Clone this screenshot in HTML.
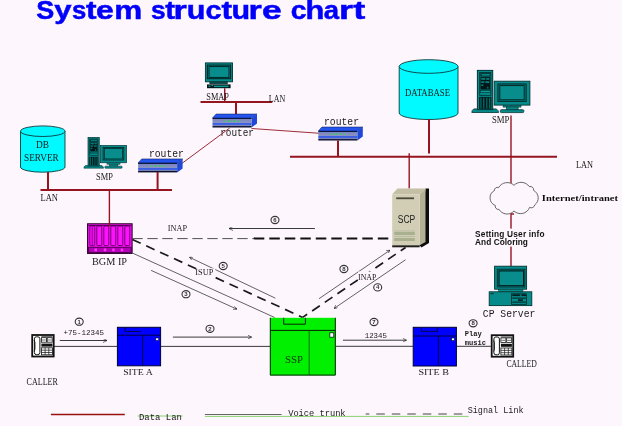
<!DOCTYPE html>
<html><head><meta charset="utf-8"><title>System structure chart</title>
<style>
html,body{margin:0;padding:0;background:#fdf7fd;}
body{width:622px;height:426px;overflow:hidden;}
svg{display:block;will-change:transform;}
.t{font-family:"Liberation Serif",serif;fill:#1a1a1a;}
.m{font-family:"Liberation Mono",monospace;fill:#1a1a1a;}
.b{font-family:"Liberation Sans",sans-serif;font-weight:bold;fill:#111;}
.lan{stroke:#941420;stroke-width:2;fill:none;}
.ln{stroke:#941420;stroke-width:1.4;fill:none;}
.tl{stroke:#941420;stroke-width:0.9;fill:none;}
.k{stroke:#3a3a3a;stroke-width:1;fill:none;}
.kd{stroke:#505050;stroke-width:0.9;fill:none;}
.g{stroke:#555;stroke-width:1;fill:none;}
.dk{stroke:#111;stroke-width:2;fill:none;stroke-dasharray:9 6;}
.num{font-family:"Liberation Sans",sans-serif;font-size:6px;font-weight:bold;fill:#333;text-anchor:middle;}
.nc{fill:none;stroke:#333;stroke-width:1.1;}
</style></head>
<body>
<svg width="622" height="426" viewBox="0 0 622 426">
<defs>
  <linearGradient id="rg" x1="0" y1="0" x2="0" y2="1">
    <stop offset="0" stop-color="#080c28"/>
    <stop offset="0.08" stop-color="#141c48"/>
    <stop offset="0.14" stop-color="#7a86c0"/>
    <stop offset="0.5" stop-color="#8a92c4"/>
    <stop offset="0.56" stop-color="#3a5ee6"/>
    <stop offset="0.72" stop-color="#4466e0"/>
    <stop offset="0.78" stop-color="#8088b8"/>
    <stop offset="0.86" stop-color="#5a64a0"/>
    <stop offset="0.9" stop-color="#0c1030"/>
    <stop offset="1" stop-color="#080c28"/>
  </linearGradient>
  <g id="router">
    <polygon points="3.6,0 44.5,0 39,4 0,4" fill="#2454ee" stroke="#0a1450" stroke-width="0.5"/>
    <polygon points="39,4 44.5,0 44.5,9.6 39,13.5" fill="#1e48d8"/>
    <rect x="0" y="4" width="39" height="9.5" fill="url(#rg)"/>
    <g fill="#30e048"><rect x="12.5" y="6.4" width="1.3" height="1.6"/><rect x="15.8" y="6.4" width="1.3" height="1.6"/><rect x="19.1" y="6.4" width="1.3" height="1.6"/><rect x="22.4" y="6.4" width="1.3" height="1.6"/><rect x="25.7" y="6.4" width="1.3" height="1.6"/></g>
  </g>
  <!-- tower + monitor, native size 58.2 x 42.7 -->
  <g id="smp">
    <path d="M2,38.8 H24.5 Q26.8,40.5 26.8,42.4 H0 Q0,40 2,38.8 Z" fill="#068a8a" stroke="#023434" stroke-width="0.8"/>
    <rect x="5.6" y="0.3" width="15.3" height="39.2" fill="#068a8a" stroke="#023434" stroke-width="1"/>
    <rect x="7.9" y="2.3" width="11.2" height="22.9" fill="#068a8a" stroke="#022828" stroke-width="0.8"/>
    <rect x="8.6" y="3.2" width="9.8" height="3.2" fill="#021818"/>
    <rect x="9.7" y="4.1" width="8.2" height="1.4" fill="#0aa0a0"/>
    <rect x="8.6" y="7" width="9.8" height="12.5" fill="#021818"/>
    <rect x="9.5" y="8" width="4" height="1.6" fill="#068a8a"/><rect x="14.5" y="8" width="3" height="1.6" fill="#068a8a"/>
    <rect x="9.5" y="11.2" width="3" height="1.6" fill="#068a8a"/><rect x="13.5" y="11.2" width="4" height="1.6" fill="#068a8a"/>
    <rect x="9.5" y="14.4" width="2" height="1.4" fill="#068a8a"/><rect x="15.5" y="16.5" width="1" height="2" fill="#068a8a"/>
    <rect x="8.6" y="20.5" width="9.8" height="1.9" fill="#0aa0a0" stroke="#022828" stroke-width="0.6"/>
    <rect x="7.3" y="26.8" width="12.3" height="12" fill="#021818"/>
    <g fill="#068a8a"><rect x="8.7" y="27.5" width="0.9" height="11"/><rect x="11.6" y="27.5" width="0.9" height="11"/><rect x="14.6" y="27.5" width="0.9" height="11"/><rect x="17.5" y="27.5" width="0.9" height="11"/></g>
    <rect x="22.4" y="11.1" width="35.7" height="23.9" fill="#068a8a" stroke="#023434" stroke-width="0.9"/>
    <rect x="26.2" y="13.9" width="28.1" height="17.3" fill="#068a8a" stroke="#021e1e" stroke-width="1"/>
    <rect x="28" y="15.5" width="24.4" height="14.2" fill="#088c8c" stroke="#021e1e" stroke-width="0.9"/>
    <rect x="31.3" y="35.2" width="17.9" height="1.8" fill="#068a8a" stroke="#023434" stroke-width="0.6"/>
    <rect x="34.6" y="36.9" width="11.7" height="2.8" fill="#068a8a" stroke="#023434" stroke-width="0.6"/>
    <rect x="28.5" y="39.6" width="23.5" height="2.9" rx="1" fill="#068a8a" stroke="#023434" stroke-width="0.8"/>
  </g>
  <g id="phone">
    <rect x="0.8" y="0.8" width="21.5" height="21.5" fill="#fff" stroke="#111" stroke-width="1.8"/>
    <rect x="3" y="2.6" width="5.5" height="17.8" rx="2" fill="#fff" stroke="#111" stroke-width="1"/>
    <path d="M2.5,6 L3.6,8 L3.6,15 L2.5,17" stroke="#111" stroke-width="0.8" fill="none"/>
    <rect x="10" y="2.2" width="11" height="0.8" fill="#111"/>
    <rect x="10" y="3.5" width="5" height="4.5" fill="#fff" stroke="#111" stroke-width="0.8"/>
    <rect x="15.8" y="3.5" width="5" height="4.5" fill="#fff" stroke="#111" stroke-width="0.8"/>
    <rect x="10.6" y="5.5" width="3.8" height="0.6" fill="#111"/>
    <rect x="16.4" y="5.5" width="3.8" height="0.6" fill="#111"/>
    <rect x="10" y="9.4" width="11" height="3" fill="#111"/>
    <rect x="10" y="13.6" width="11" height="7" fill="#fff" stroke="#111" stroke-width="0.8"/>
    <path d="M10,16 H21 M10,18.3 H21 M13.7,13.6 V20.6 M17.4,13.6 V20.6" stroke="#111" stroke-width="0.7"/>
  </g>
  <marker id="ah" viewBox="0 0 10 10" refX="10" refY="5" markerWidth="4" markerHeight="4" orient="auto-start-reverse">
    <path d="M0,0 L10,5 L0,10" fill="none" stroke="#222" stroke-width="1.6"/>
  </marker>
</defs>

<!-- Title -->
<g font-family="Liberation Sans" font-weight="bold" font-size="26.5" fill="#0000fa" stroke="#0000fa" stroke-width="0.5">
<text transform="translate(36.36,19) scale(1.019,1)">S</text><text transform="translate(54.26,19) scale(1.172,1)">y</text><text transform="translate(71.90,19) scale(0.970,1)">s</text><text transform="translate(86.03,19) scale(1.195,1)">t</text><text transform="translate(95.96,19) scale(1.205,1)">e</text><text transform="translate(114.30,19) scale(1.187,1)">m</text><text transform="translate(150.98,19) scale(0.993,1)">s</text><text transform="translate(165.36,19) scale(1.112,1)">t</text><text transform="translate(173.54,19) scale(1.289,1)">r</text><text transform="translate(186.70,19) scale(1.152,1)">u</text><text transform="translate(205.58,19) scale(1.090,1)">c</text><text transform="translate(221.53,19) scale(1.195,1)">t</text><text transform="translate(231.60,19) scale(1.151,1)">u</text><text transform="translate(248.54,19) scale(1.289,1)">r</text><text transform="translate(262.12,19) scale(1.342,1)">e</text><text transform="translate(290.70,19) scale(1.068,1)">c</text><text transform="translate(305.42,19) scale(1.162,1)">h</text><text transform="translate(323.64,19) scale(1.039,1)">a</text><text transform="translate(338.92,19) scale(1.360,1)">r</text><text transform="translate(353.28,19) scale(1.360,1)">t</text>
</g>

<!-- ===== Top center: SMAP ===== -->
<g>
  <rect x="205.4" y="62.9" width="27.1" height="18.9" fill="#068a8a" stroke="#023434" stroke-width="0.9"/>
  <rect x="207.4" y="65.1" width="23.2" height="13.6" fill="#068a8a" stroke="#021e1e" stroke-width="1"/>
  <rect x="209" y="66.6" width="20" height="10.8" fill="#088c8c" stroke="#021e1e" stroke-width="0.9"/>
  <rect x="209.8" y="81.9" width="17.6" height="2" fill="#0a5050" stroke="#021e1e" stroke-width="0.5"/>
  <rect x="207" y="84.4" width="23.6" height="3.8" fill="#021818"/>
  <g fill="#0a9a9a"><rect x="208.5" y="85.5" width="2" height="1.2"/><rect x="211.5" y="85" width="1.5" height="1"/><rect x="214" y="85.6" width="14.5" height="1.5"/></g>
</g>
<line class="ln" x1="224.7" y1="88.2" x2="224.7" y2="102"/>
<text class="t" x="206.3" y="99.6" font-size="10" textLength="22.7" lengthAdjust="spacingAndGlyphs">SMAP</text>
<line class="lan" x1="200.5" y1="102" x2="272.3" y2="102"/>
<text class="t" x="268.8" y="101.8" font-size="10" textLength="16.4" lengthAdjust="spacingAndGlyphs">LAN</text>
<line class="lan" x1="236" y1="102" x2="236" y2="114.5"/>
<use href="#router" x="212.5" y="114"/>
<text class="m" x="220.2" y="136.2" font-size="10" textLength="33.8" lengthAdjust="spacingAndGlyphs">router</text>

<!-- router links -->
<line class="tl" x1="229.7" y1="128" x2="181.4" y2="163.8"/>
<line class="tl" x1="251.5" y1="128.5" x2="319.7" y2="133.3"/>

<!-- ===== Left: DB SERVER, SMP, router, LAN ===== -->
<g>
  <path d="M20.5,131.2 V167 A22.25,5.2 0 0 0 65,167 V131.2" fill="#00faff" stroke="#0a3a3a" stroke-width="0.9"/>
  <ellipse cx="42.75" cy="131.2" rx="22.25" ry="5.3" fill="#00faff" stroke="#0a3a3a" stroke-width="0.9"/>
  <text class="t" x="36" y="148" font-size="9.5" textLength="13" lengthAdjust="spacingAndGlyphs">DB</text>
  <text class="t" x="24" y="161" font-size="9.5" textLength="34.7" lengthAdjust="spacingAndGlyphs">SERVER</text>
</g>
<line class="lan" x1="48" y1="172" x2="48" y2="190"/>
<use href="#smp" transform="translate(83.9,137.3) scale(0.735,0.728)"/>
<text class="t" x="96" y="179.5" font-size="9.5" textLength="16.8" lengthAdjust="spacingAndGlyphs">SMP</text>
<use href="#router" x="138.1" y="158.9"/>
<text class="m" x="148.9" y="156.6" font-size="10" textLength="35" lengthAdjust="spacingAndGlyphs">router</text>
<line class="lan" x1="157.6" y1="172" x2="157.6" y2="190"/>
<line class="lan" x1="40.5" y1="190" x2="172" y2="190"/>
<text class="t" x="40.5" y="201" font-size="9.5" textLength="17.5" lengthAdjust="spacingAndGlyphs">LAN</text>
<line class="ln" x1="109.4" y1="190" x2="109.4" y2="226.3"/>

<!-- ===== Right top: router, DATABASE, SMP, LAN ===== -->
<use href="#router" x="318.3" y="127"/>
<text class="m" x="324" y="124.6" font-size="10" textLength="35" lengthAdjust="spacingAndGlyphs">router</text>
<line class="lan" x1="338" y1="140.5" x2="338" y2="156.8"/>
<g>
  <path d="M399.2,66.5 V113 A29.4,6.5 0 0 0 458,113 V66.5" fill="#00faff" stroke="#0a3a3a" stroke-width="0.9"/>
  <ellipse cx="428.6" cy="66.5" rx="29.4" ry="6.8" fill="#00faff" stroke="#0a3a3a" stroke-width="0.9"/>
  <text class="t" x="405" y="95.6" font-size="10" textLength="45" lengthAdjust="spacingAndGlyphs">DATABASE</text>
</g>
<line class="lan" x1="429" y1="119" x2="429" y2="153.5"/>
<use href="#smp" transform="translate(471.8,70.1)"/>
<text class="t" x="491.9" y="123" font-size="10" textLength="17.5" lengthAdjust="spacingAndGlyphs">SMP</text>
<line class="lan" x1="290" y1="156.8" x2="557" y2="156.8"/>
<text class="t" x="576" y="168" font-size="10" textLength="17" lengthAdjust="spacingAndGlyphs">LAN</text>
<line class="ln" x1="511" y1="115.5" x2="511" y2="183"/>
<line class="ln" x1="409.2" y1="153.2" x2="409.2" y2="188.5"/>

<!-- ===== Cloud ===== -->
<path d="M514.0,185.3 A9.99,9.99 0 0 1 529.3,186.6 A3.37,3.37 0 0 1 533.6,190.4 A8.53,8.53 0 0 1 534.8,204.8 A3.57,3.57 0 0 1 529.6,207.4 A9.60,9.60 0 0 1 514.0,211.0 A9.39,9.39 0 0 1 499.0,209.4 A3.22,3.22 0 0 1 495.3,205.4 A8.13,8.13 0 0 1 494.4,190.6 A2.97,2.97 0 0 1 498.6,187.6 A9.88,9.88 0 0 1 514.0,185.3 Z" fill="#fdf7fd" stroke="#444" stroke-width="0.8"/>
<line class="ln" x1="511" y1="213.5" x2="511" y2="266"/>
<line class="ln" x1="511" y1="214" x2="514" y2="214"/>
<text x="541.8" y="200.8" font-family="Liberation Serif" font-weight="bold" font-size="8.5" fill="#111" textLength="76.2" lengthAdjust="spacingAndGlyphs">Internet/intranet</text>
<rect x="474" y="228.6" width="72" height="18" fill="#fdf7fd"/>
<text class="b" x="475.1" y="236.5" font-size="8.3" textLength="69.5" lengthAdjust="spacing">Setting User info</text>
<text class="b" x="475.1" y="244.8" font-size="8.3" textLength="52.8" lengthAdjust="spacing">And Coloring</text>

<!-- ===== CP Server ===== -->
<g>
  <rect x="494.6" y="266.2" width="32" height="23" fill="#068a8a" stroke="#023434" stroke-width="0.9"/>
  <rect x="497.3" y="269.2" width="27.6" height="17.8" fill="#068a8a" stroke="#021e1e" stroke-width="0.8"/>
  <rect x="499" y="270.9" width="24.6" height="14.8" fill="#088c8c" stroke="#021818" stroke-width="1.1"/>
  <rect x="498.5" y="289.4" width="24.5" height="2.2" fill="#068a8a" stroke="#023434" stroke-width="0.5"/>
  <rect x="489.2" y="291.8" width="42.6" height="13.8" fill="#068a8a" stroke="#023434" stroke-width="0.9"/>
  <rect x="511.6" y="293.8" width="15" height="10.5" fill="#068a8a" stroke="#021e1e" stroke-width="0.7"/>
  <rect x="512.3" y="294.3" width="8" height="1.8" fill="#021e1e"/>
  <rect x="521.5" y="294.3" width="4.5" height="1.8" fill="#021e1e"/>
  <rect x="512.3" y="297.6" width="13.6" height="1" fill="#021e1e"/>
  <rect x="518" y="299.3" width="5" height="1.6" fill="#021e1e"/>
  <rect x="512.3" y="301.6" width="13.6" height="1" fill="#021e1e"/>
  <rect x="490.6" y="293.3" width="3" height="0.9" fill="#021e1e"/>
</g>
<text class="m" x="482.8" y="317" font-size="10" textLength="52.5" lengthAdjust="spacingAndGlyphs">CP Server</text>

<!-- ===== SCP ===== -->
<g>
  <polygon points="425.5,188.6 429,188.6 429,243 421.4,247.5 419.7,245.3" fill="#0c0c0c"/>
  <polygon points="397.5,188.6 425.5,188.6 419.7,194.3 392.2,194.3" fill="#c4c0a6"/>
  <polygon points="419.7,194.3 425.5,188.6 425.5,242 419.7,245.3" fill="#b4b094"/>
  <rect x="392.2" y="194.3" width="27.5" height="51" fill="#d2ceb6"/>
  <rect x="392.2" y="245.3" width="27.5" height="2" fill="#202018"/>
  <rect x="396.2" y="197.4" width="17.8" height="1.8" fill="#4a4a3a"/>
  <text x="397.8" y="222.8" font-family="Liberation Sans" font-size="10" fill="#202020" textLength="17.5" lengthAdjust="spacingAndGlyphs">SCP</text>
  <rect x="394.2" y="230.5" width="20.6" height="1" fill="#b8bca0"/>
  <rect x="394.2" y="232" width="20.6" height="3" fill="#a8b090"/>
  <rect x="394.2" y="236" width="20.6" height="1" fill="#b8bca0"/>
  <rect x="394.2" y="238" width="20.6" height="3" fill="#a8b090"/>
</g>

<!-- ===== BGM IP ===== -->
<g>
  <rect x="87.6" y="223.8" width="44.5" height="29.6" fill="#ff10ff" stroke="#300030" stroke-width="1.1"/>
  <line x1="88.5" y1="225.6" x2="131.5" y2="225.6" stroke="#400040" stroke-width="0.9"/>
  <g fill="none" stroke="#400040" stroke-width="0.75">
    <rect x="89.8" y="226" width="5" height="19.6" rx="1"/>
    <rect x="96.8" y="226" width="5" height="19.6" rx="1"/>
    <rect x="103.8" y="226" width="5" height="19.6" rx="1"/>
    <rect x="110.8" y="226" width="5" height="19.6" rx="1"/>
    <rect x="117.8" y="226" width="5" height="19.6" rx="1"/>
    <rect x="124.8" y="226" width="5" height="19.6" rx="1"/>
  </g>
  <rect x="91.6" y="227" width="1.6" height="18" fill="#b000b0"/>
  <rect x="88.6" y="247.2" width="42.6" height="5.4" fill="#b400b4" stroke="#300030" stroke-width="0.8"/>
  <g fill="#ff30ff">
    <rect x="94.5" y="248.5" width="2.5" height="2.8"/><rect x="103.8" y="248.5" width="2.5" height="2.8"/><rect x="112.2" y="248.5" width="2.5" height="2.8"/><rect x="120.7" y="248.5" width="2.5" height="2.8"/>
  </g>
</g>
<line class="ln" x1="109.4" y1="223" x2="109.4" y2="226.3"/>
<text class="t" x="92" y="265" font-size="9.5" textLength="35" lengthAdjust="spacingAndGlyphs">BGM IP</text>

<!-- ===== Signal lines between BGM, SCP, SSP ===== -->
<line x1="132.3" y1="238.6" x2="254" y2="238.6" stroke="#505050" stroke-width="1" stroke-dasharray="10.4 4.6"/>
<line x1="253.8" y1="238.4" x2="392" y2="238.4" stroke="#111" stroke-width="2" stroke-dasharray="10.5 5"/>
<text class="t" x="167.7" y="231.1" font-size="8.5" textLength="19.3" lengthAdjust="spacingAndGlyphs">INAP</text>
<ellipse class="nc" cx="275" cy="220" rx="4" ry="3.6"/><text class="num" x="275" y="222">6</text>
<line class="k" x1="229" y1="228.5" x2="314.9" y2="228.5" marker-start="url(#ah)"/>

<line x1="132.3" y1="239.5" x2="302.6" y2="317.4" stroke="#1a1a1a" stroke-width="1.7" stroke-dasharray="9.2 6.07"/>
<line class="kd" x1="132.3" y1="253" x2="274.7" y2="317.5"/>
<line class="kd" x1="151.1" y1="270.4" x2="237" y2="309.2" marker-end="url(#ah)"/>
<line class="kd" x1="189.5" y1="257.3" x2="275.4" y2="298.2" marker-start="url(#ah)"/>
<rect x="196.8" y="268.4" width="18.5" height="7.5" fill="#fdf7fd"/>
<text class="t" x="195.3" y="274.7" font-size="8.5" textLength="18.1" lengthAdjust="spacingAndGlyphs">ISUP</text>
<ellipse class="nc" cx="223.2" cy="266" rx="4" ry="3.6"/><text class="num" x="223.2" y="268">5</text>
<ellipse class="nc" cx="186" cy="294.2" rx="4" ry="3.6"/><text class="num" x="186" y="296.2">3</text>

<line x1="302.6" y1="317.4" x2="405.6" y2="247.5" stroke="#1a1a1a" stroke-width="1.7" stroke-dasharray="9.3 6" stroke-dashoffset="3.8"/>
<line class="kd" x1="319" y1="298.7" x2="390" y2="250.2" marker-end="url(#ah)"/>
<line class="kd" x1="405.6" y1="259.7" x2="334" y2="308.5" marker-end="url(#ah)"/>
<ellipse class="nc" cx="343.9" cy="269" rx="4" ry="3.6"/><text class="num" x="343.9" y="271">8</text>
<rect x="358" y="271.5" width="16" height="9" fill="#fdf7fd"/>
<text class="t" x="358" y="279.5" font-size="8.5" textLength="18.5" lengthAdjust="spacingAndGlyphs">INAP</text>
<ellipse class="nc" cx="377.7" cy="287.4" rx="4" ry="3.6"/><text class="num" x="377.7" y="289.4">4</text>

<!-- ===== Bottom row ===== -->
<line class="k" x1="54" y1="346.4" x2="117.2" y2="346.4"/>
<line class="k" x1="160.7" y1="346.4" x2="270" y2="346.4"/>
<line class="k" x1="335.9" y1="346.3" x2="413" y2="346.3"/>
<line class="k" x1="456.4" y1="346.3" x2="490.8" y2="346.3"/>

<use href="#phone" x="31.4" y="334.2"/>
<text class="t" x="26.6" y="385.4" font-size="9.5" textLength="31.2" lengthAdjust="spacingAndGlyphs">CALLER</text>
<line class="k" x1="59.8" y1="340.5" x2="107" y2="340.5" marker-end="url(#ah)"/>
<text class="m" x="63.6" y="335.3" font-size="8" textLength="40.4" lengthAdjust="spacingAndGlyphs">+75-12345</text>
<ellipse class="nc" cx="79.2" cy="321.7" rx="4" ry="3.6"/><text class="num" x="79.2" y="323.7">1</text>

<g>
  <rect x="117.4" y="327.3" width="43.2" height="38.5" fill="#0000ff" stroke="#000030" stroke-width="1"/>
  <line x1="117.2" y1="335.2" x2="160.7" y2="335.2" stroke="#000040" stroke-width="1"/>
  <line x1="142.6" y1="335.2" x2="142.6" y2="365.8" stroke="#000040" stroke-width="1"/>
  <path d="M125.2,327 V331.5 H140.8" stroke="#000040" stroke-width="0.9" fill="none"/>
  <rect x="155.8" y="338" width="2.8" height="2.4" fill="#fff" stroke="#000" stroke-width="0.5"/>
</g>
<text class="t" x="123.2" y="375.2" font-size="9" textLength="29.6" lengthAdjust="spacingAndGlyphs">SITE A</text>

<line class="k" x1="172.9" y1="337.1" x2="251.6" y2="337.1" marker-end="url(#ah)"/>
<ellipse class="nc" cx="210" cy="328.8" rx="4" ry="3.6"/><text class="num" x="210" y="330.8">2</text>

<g>
  <rect x="270" y="317.8" width="65.6" height="57.6" fill="#00f000"/>
  <path d="M270.3,317.8 V375.1 H335.3 V317.8" fill="none" stroke="#0a200a" stroke-width="1"/>
  <line x1="270" y1="330.4" x2="335.6" y2="330.4" stroke="#062006" stroke-width="1"/>
  <line x1="309.2" y1="330.4" x2="309.2" y2="375" stroke="#005000" stroke-width="0.8"/>
  <path d="M283.7,317.8 V324.2 H305.4 V317.8" fill="none" stroke="#062006" stroke-width="1"/>
  <rect x="329.8" y="332.8" width="4" height="4.4" fill="#fff" stroke="#0a200a" stroke-width="0.8"/>
</g>
<text x="285" y="362.8" font-family="Liberation Serif" font-size="10" fill="#113311" textLength="18" lengthAdjust="spacingAndGlyphs">SSP</text>

<line class="k" x1="343" y1="340.2" x2="406.5" y2="340.2" marker-end="url(#ah)"/>
<text class="m" x="364.7" y="337.6" font-size="8" textLength="22.3" lengthAdjust="spacingAndGlyphs">12345</text>
<ellipse class="nc" cx="374" cy="322" rx="4" ry="3.6"/><text class="num" x="374" y="324">7</text>

<g>
  <rect x="413.2" y="327.3" width="43.2" height="38.7" fill="#0000ff" stroke="#000030" stroke-width="1"/>
  <line x1="413" y1="336" x2="456.4" y2="336" stroke="#000040" stroke-width="1"/>
  <line x1="438.4" y1="336" x2="438.4" y2="366" stroke="#000040" stroke-width="1"/>
  <path d="M421.6,327.3 V331.4 H437.6 V327.3" fill="none" stroke="#000040" stroke-width="0.9"/>
  <rect x="451.6" y="338" width="2.8" height="2.6" fill="#fff" stroke="#000" stroke-width="0.6"/>
</g>
<text class="t" x="418.4" y="375.2" font-size="9" textLength="30.6" lengthAdjust="spacingAndGlyphs">SITE B</text>

<ellipse class="nc" cx="473.1" cy="323.3" rx="4" ry="3.6"/><text class="num" x="473.1" y="325.3">8</text>
<text class="m" x="464.8" y="335.9" font-size="8" font-weight="bold" textLength="17" lengthAdjust="spacingAndGlyphs">Play</text>
<text class="m" x="464.8" y="344.6" font-size="7.5" font-weight="bold" textLength="21.3" lengthAdjust="spacingAndGlyphs">music</text>
<use href="#phone" x="490.9" y="334.4"/>
<text class="t" x="506.4" y="367" font-size="9.5" textLength="30.4" lengthAdjust="spacingAndGlyphs">CALLED</text>

<!-- ===== Legend ===== -->
<line x1="50.9" y1="414.5" x2="124.8" y2="414.5" stroke="#9a1010" stroke-width="1.7"/>
<line x1="137.7" y1="416" x2="182.7" y2="416" stroke="#88d070" stroke-width="1"/>
<text class="m" x="139" y="420" font-size="8.5" textLength="42.9" lengthAdjust="spacingAndGlyphs">Data Lan</text>
<line x1="204.9" y1="414.5" x2="281.6" y2="414.5" stroke="#666" stroke-width="1"/>
<line x1="204.9" y1="416.4" x2="468.6" y2="416.4" stroke="#88d070" stroke-width="1"/>
<text class="m" x="288.2" y="416.4" font-size="8.5" textLength="57.4" lengthAdjust="spacingAndGlyphs">Voice trunk</text>
<line x1="365.7" y1="414" x2="463.5" y2="414" stroke="#444" stroke-width="1.2" stroke-dasharray="8.5 7" stroke-dashoffset="4.9"/>
<text class="m" x="467.7" y="412.8" font-size="8.5" textLength="55.9" lengthAdjust="spacingAndGlyphs">Signal Link</text>
</svg>
</body></html>
